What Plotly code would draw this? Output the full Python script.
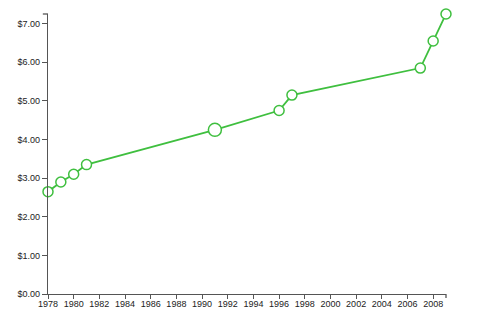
import plotly.graph_objects as go

years = [1978, 1979, 1980, 1981, 1991, 1996, 1997, 2007, 2008, 2009]
wages = [2.65, 2.90, 3.10, 3.35, 4.25, 4.75, 5.15, 5.85, 6.55, 7.25]
highlight_year = 1991

GREEN = "#3fbf3f"
AXIS = "#555555"

sizes = [13 if y == highlight_year else 10 for y in years]

fig = go.Figure()
fig.add_trace(go.Scatter(
    x=years, y=wages, mode="lines+markers",
    line=dict(color=GREEN, width=1.8),
    marker=dict(size=sizes, color="white", opacity=1,
                line=dict(color=GREEN, width=1.5)),
    cliponaxis=False, hoverinfo="skip",
))

font = dict(family="Liberation Sans, Arial, sans-serif", size=9, color="#222")
fig.update_layout(
    width=480, height=320,
    margin=dict(l=48, r=34, t=14, b=26, autoexpand=False),
    plot_bgcolor="white", paper_bgcolor="white",
    showlegend=False, font=font,
    xaxis=dict(range=[1978, 2009], dtick=2, tick0=1978, tickformat="d",
               showgrid=False, zeroline=False, showline=True, linecolor=AXIS,
               linewidth=1.3, ticks="outside", ticklen=4, tickcolor=AXIS,
               ticklabelstandoff=-3, tickfont=font),
    yaxis=dict(range=[0, 7.25], dtick=1, tickformat="$.2f",
               showgrid=False, zeroline=False, showline=True, linecolor=AXIS,
               linewidth=1.3, ticks="outside", ticklen=5, tickcolor=AXIS,
               tickfont=font),
)
# outer end ticks of the axis domains
fig.add_shape(type="line", xref="paper", yref="paper", x0=1, x1=1, y0=0, y1=-0.0145,
              line=dict(color=AXIS, width=1.3))
fig.add_shape(type="line", xref="paper", yref="paper", x0=0, x1=-0.013, y0=1, y1=1,
              line=dict(color=AXIS, width=1.3))

fig.write_html("out.html")
